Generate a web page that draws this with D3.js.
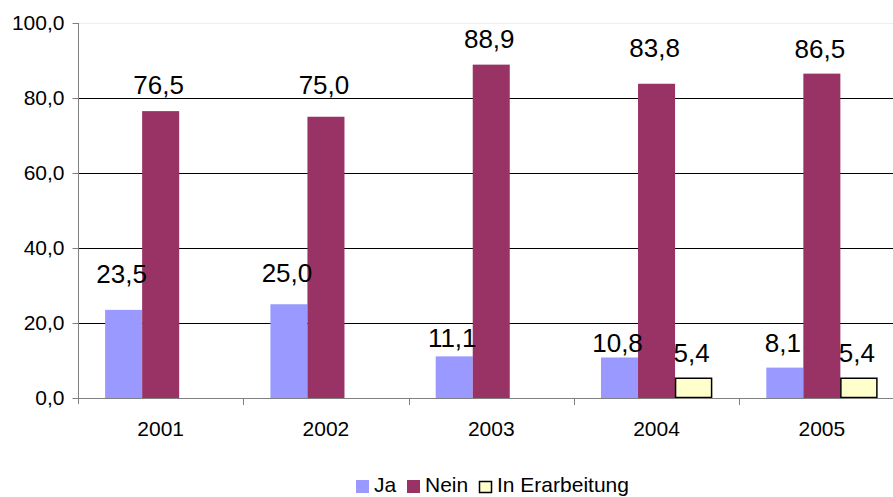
<!DOCTYPE html>
<html>
<head>
<meta charset="utf-8">
<script src="https://cdn.jsdelivr.net/npm/d3@7/dist/d3.min.js"></script>
<style>
  html, body { margin: 0; padding: 0; background: #fff; }
  svg { display: block; font-family: "Liberation Sans", Arial, sans-serif; }
</style>
</head>
<body>
<svg id="chart" width="893" height="497"></svg>
<script>
// Survey answers per year (percent)
const years = ["2001", "2002", "2003", "2004", "2005"];
const seriesNames = ["Ja", "Nein", "In Erarbeitung"];
const ja = [23.5, 25.0, 11.1, 10.8, 8.1];
const nein = [76.5, 75.0, 88.9, 83.8, 86.5];
const inErarbeitung = [null, null, null, 5.4, 5.4];
const yTicks = [0, 20, 40, 60, 80, 100];

const seriesValues = [ja, nein, inErarbeitung];
const seriesColors = ["#9999ff", "#993366", "#ffffcc"];
const seriesStroke = [null, null, "#000"];
// vertical gap (px) between a bar's top and its value label's baseline
const labelLift = [
  [27, 22, 9, 6, 16],
  [17, 23, 17, 27, 16],
  [0, 0, 0, 16, 16]
];

const svg = d3.select("#chart");
const plot = { left: 78, top: 23, bottom: 398, right: 904.5 };

const de = d3.formatLocale({ decimal: ",", thousands: ".", grouping: [3], currency: ["", " €"] });
const fmt = de.format(".1f");

const x0 = d3.scaleBand().domain(years).range([plot.left, plot.right]).padding(0);
const groupWidth = x0.bandwidth() * 0.672;
const x1 = d3.scaleBand().domain(seriesNames).range([0, groupWidth]).padding(0);
const y = d3.scaleLinear().domain([0, 100]).range([plot.bottom, plot.top]);

// plot-area top edge and gridlines
svg.append("line")
  .attr("x1", plot.left).attr("x2", 893)
  .attr("y1", y(100) + 0.5).attr("y2", y(100) + 0.5)
  .attr("stroke", "#eeeeee");
svg.append("g").selectAll("line")
  .data(yTicks.filter(t => t > 0 && t < 100))
  .join("line")
  .attr("x1", plot.left).attr("x2", 893)
  .attr("y1", d => Math.round(y(d)) + 0.5).attr("y2", d => Math.round(y(d)) + 0.5)
  .attr("stroke", "#000").attr("stroke-width", 1);

// bars
const groups = svg.append("g").selectAll("g")
  .data(years)
  .join("g")
  .attr("transform", d => `translate(${x0(d) + (x0.bandwidth() - groupWidth) / 2},0)`);

seriesNames.forEach((name, si) => {
  groups.each(function (yr, i) {
    const v = seriesValues[si][i];
    if (v == null) return;
    const g = d3.select(this);
    const r = g.append("rect")
      .attr("x", x1(name))
      .attr("y", y(v))
      .attr("width", x1.bandwidth())
      .attr("height", y(0) - y(v))
      .attr("fill", seriesColors[si]);
    if (seriesStroke[si]) {
      r.attr("x", x1(name) + 0.5).attr("y", y(v) + 0.5)
        .attr("width", x1.bandwidth() - 1).attr("height", y(0) - y(v) - 1)
        .attr("stroke", seriesStroke[si]).attr("stroke-width", 1.5);
    }
  });
});

// value labels
seriesNames.forEach((name, si) => {
  groups.each(function (yr, i) {
    const v = seriesValues[si][i];
    if (v == null) return;
    d3.select(this).append("text")
      .attr("x", x1(name) + x1.bandwidth() / 2 - 2)
      .attr("y", y(v) - labelLift[si][i])
      .attr("text-anchor", "middle")
      .attr("font-size", 26)
      .attr("fill", "#000")
      .text(fmt(v));
  });
});

// y axis
const yAxis = d3.axisLeft(y).tickValues(yTicks).tickSize(6).tickPadding(8).tickFormat(fmt);
const gy = svg.append("g").attr("transform", `translate(${plot.left + 0.5},0)`).call(yAxis);
gy.select(".domain").attr("stroke", "#808080").attr("d", `M0,${plot.top}V${plot.bottom + 6}`);
gy.selectAll(".tick line").attr("stroke", "#808080");
gy.selectAll(".tick text").attr("font-size", 21).attr("fill", "#000")
  .attr("font-family", "Liberation Sans, Arial, sans-serif");

// x axis
svg.append("line")
  .attr("x1", plot.left).attr("x2", 893)
  .attr("y1", plot.bottom + 0.5).attr("y2", plot.bottom + 0.5)
  .attr("stroke", "#808080");
svg.append("g").selectAll("line")
  .data(years.slice(1))
  .join("line")
  .attr("x1", d => Math.round(x0(d)) + 0.5).attr("x2", d => Math.round(x0(d)) + 0.5)
  .attr("y1", plot.bottom).attr("y2", plot.bottom + 7)
  .attr("stroke", "#808080");
svg.append("g").selectAll("text")
  .data(years)
  .join("text")
  .attr("x", d => x0(d) + x0.bandwidth() / 2)
  .attr("y", 436)
  .attr("text-anchor", "middle")
  .attr("font-size", 21)
  .attr("fill", "#000")
  .text(d => d);

// legend
const legendItems = [
  { name: seriesNames[0], x: 356, color: seriesColors[0], stroke: null },
  { name: seriesNames[1], x: 407, color: seriesColors[1], stroke: null },
  { name: seriesNames[2], x: 479, color: seriesColors[2], stroke: "#000" }
];
const lg = svg.append("g");
legendItems.forEach(it => {
  if (it.stroke) {
    lg.append("rect").attr("x", it.x + 0.5).attr("y", 481.5).attr("width", 12).attr("height", 11)
      .attr("fill", it.color).attr("stroke", it.stroke).attr("stroke-width", 1.5);
  } else {
    lg.append("rect").attr("x", it.x).attr("y", 480).attr("width", 13).attr("height", 13)
      .attr("fill", it.color);
  }
  lg.append("text").attr("x", it.x + 18).attr("y", 491.5)
    .attr("font-size", 21).attr("fill", "#000").text(it.name);
});
</script>
</body>
</html>
